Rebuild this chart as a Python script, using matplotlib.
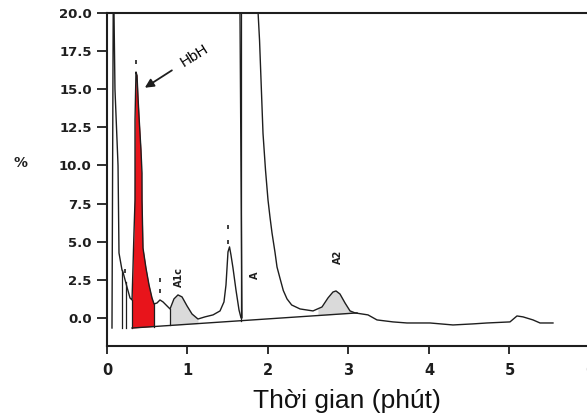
import numpy as np
import matplotlib
matplotlib.use("Agg")
import matplotlib.pyplot as plt

# chromatogram trace (time in min, signal in %)
t = [0.062, 0.080, 0.087, 0.099, 0.137, 0.149, 0.186, 0.199, 0.248, 0.286, 0.311,
     0.323, 0.335, 0.348, 0.348, 0.360,
     0.373, 0.385, 0.398, 0.422, 0.435, 0.435, 0.447, 0.484, 0.522, 0.559, 0.584,
     0.621, 0.658, 0.696, 0.745, 0.783, 0.832, 0.882, 0.932, 0.994, 1.056, 1.130,
     1.217, 1.317, 1.404, 1.453, 1.478, 1.503, 1.522, 1.540, 1.565, 1.602, 1.640,
     1.665, 1.677, 1.652, 1.760, 1.877, 1.895, 1.938, 1.969, 2.000, 2.025, 2.050,
     2.087, 2.112, 2.149, 2.190, 2.236, 2.294, 2.398, 2.559, 2.671, 2.745, 2.807,
     2.845, 2.894, 2.957, 3.019, 3.081, 3.168, 3.242, 3.354, 3.553, 3.727, 4.012,
     4.298, 4.547, 4.720, 5.006, 5.093, 5.168, 5.292, 5.379, 5.540]
sig = [-0.66, 24.0, 20.0, 15.0, 10.0, 4.26, 3.15, 3.0, 2.03, 1.31, 1.18,
       3.34, 5.57, 7.74, 13.0, 16.13,
       15.9, 14.5, 13.2, 11.0, 9.5, 7.74, 4.59, 3.28, 2.16, 1.31, 0.92,
       0.98, 1.18, 1.05, 0.79, 0.59, 1.25, 1.51, 1.38, 0.79, 0.26, -0.07,
       0.07, 0.20, 0.46, 1.05, 2.16, 4.33, 4.66, 4.13, 3.28, 1.84, 0.52,
       0.0, 0.0, 20.0, 60.0, 20.0, 18.2, 12.1, 9.7, 7.74, 6.6, 5.57,
       4.3, 3.34, 2.6, 1.8, 1.25, 0.85, 0.59, 0.46, 0.72, 1.31, 1.70,
       1.77, 1.57, 0.98, 0.46, 0.33, 0.26, 0.20, -0.13, -0.26, -0.33, -0.33,
       -0.46, -0.39, -0.33, -0.26, 0.13, 0.07, -0.13, -0.33, -0.33]

# integration baseline (start, end)
base_t = [0.311, 3.106]
base_y = [-0.66, 0.33]

# peak windows
hbh_win = [0.311, 0.584]
a1c_win = [0.783, 1.130]
a2_win = [2.62, 3.04]

# drop lines from trace to baseline
drop_t = [0.186, 0.230, 0.311, 0.584, 0.783, 1.665]

# tiny retention marks above peaks (x, y)
mark_x = [0.360, 0.224, 0.658, 0.658, 1.503, 1.503]
mark_y = [16.8, 3.05, 2.50, 1.75, 5.95, 5.0]

# peak labels
lab_txt = ["A1c", "A", "A2"]
lab_x = [0.894, 1.839, 2.87]
lab_y = [2.69, 2.82, 4.0]

xticks = [0, 1, 2, 3, 4, 5, 6]
yticks = [0.0, 2.5, 5.0, 7.5, 10.0, 12.5, 15.0, 17.5, 20.0]

t = np.array(t)
sig = np.array(sig)


def baseline(x):
    return np.interp(x, base_t, base_y)


def trace_at(x):
    # the A-peak return leg goes backwards in t, so only use the monotone parts
    return np.interp(x, t[:50], sig[:50]) if x < 1.66 else np.interp(x, t[53:], sig[53:])


fig = plt.figure(figsize=(5.87, 4.16), dpi=100)
ax = fig.add_axes([107 / 587, 70 / 416, 483 / 587, 333 / 416])

lc = "#1e1e1e"

# filled peaks
for win, col in [(hbh_win, "#e8141b"), (a1c_win, "#dadada"), (a2_win, "#dadada")]:
    xs = np.array([x for x in t if win[0] <= x <= win[1]])
    xs = np.concatenate([[win[0]], xs, [win[1]]])
    if win is hbh_win:
        top = np.interp(xs, t[:50], sig[:50])
    else:
        top = np.array([trace_at(x) for x in xs])
    ax.fill_between(xs, baseline(xs), top, color=col, lw=0, zorder=1)

ax.plot(t, sig, color=lc, lw=1.0, zorder=3)
ax.plot(base_t, base_y, color=lc, lw=1.0, zorder=3)
for x in drop_t:
    lo = -0.66 if x < 0.311 else baseline(x)
    ax.plot([x, x], [lo, trace_at(x)], color=lc, lw=0.9, zorder=3)

ax.plot(mark_x, mark_y, ls="none", marker="|", ms=3, mew=1.2, color=lc, zorder=3)

for s, x, y in zip(lab_txt, lab_x, lab_y):
    ax.text(x, y, s, rotation=90, ha="center", va="center", fontsize=7,
            fontweight="bold", family="DejaVu Sans", color=lc)

ax.annotate("HbH", xy=(0.47, 15.1), xytext=(1.09, 17.2), rotation=32,
            ha="center", va="center", fontsize=11, family="Liberation Sans",
            arrowprops=dict(arrowstyle="-|>", color=lc, lw=1.3, mutation_scale=13,
                            shrinkA=3, shrinkB=0))

ax.set_xlim(0, 6)
ax.set_ylim(-1.84, 20.0)
ax.set_xticks(xticks)
ax.set_yticks(yticks)
ax.set_xticklabels([str(v) for v in xticks])
ax.set_yticklabels(["%.1f" % v for v in yticks])
for lab in ax.get_xticklabels():
    lab.set_fontfamily("DejaVu Sans")
    lab.set_fontweight("bold")
    lab.set_fontsize(10.5)
for lab in ax.get_yticklabels():
    lab.set_fontfamily("DejaVu Sans")
    lab.set_fontweight("bold")
    lab.set_fontsize(9.5)
ax.tick_params(axis="y", direction="out", length=7, width=1.3, pad=4, colors=lc)
ax.tick_params(axis="x", direction="out", length=6, width=1.3, pad=6, colors=lc)

for side in ["left", "bottom", "top"]:
    ax.spines[side].set_linewidth(1.5)
    ax.spines[side].set_color(lc)
ax.spines["right"].set_visible(False)

fig.text(20 / 587, 1 - 163 / 416, "%", ha="center", va="center", fontsize=10,
         fontweight="bold", family="DejaVu Sans", color=lc)
fig.text(347 / 587, 8 / 416, "Thời gian (phút)", ha="center", va="baseline",
         fontsize=19, family="Liberation Sans", color="#111111")

fig.savefig("out.png", dpi=100)
